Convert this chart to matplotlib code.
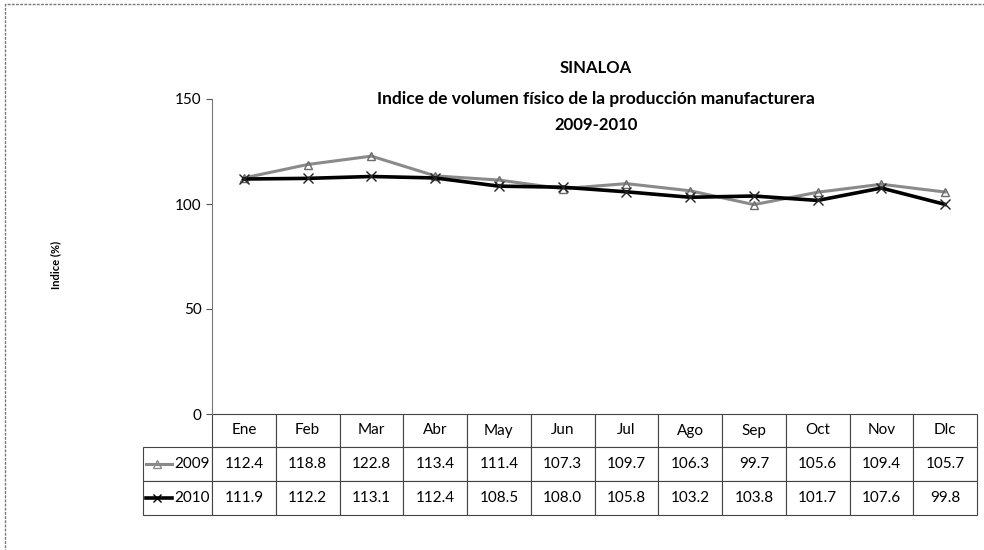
import matplotlib
matplotlib.use('Agg')
import matplotlib.pyplot as plt
from matplotlib.lines import Line2D
from matplotlib.patches import Rectangle

plt.rcParams['font.family'] = ['Lato', 'DejaVu Sans']

meses = ['Ene', 'Feb', 'Mar', 'Abr', 'May', 'Jun', 'Jul', 'Ago', 'Sep', 'Oct', 'Nov', 'Dic']
v2009 = [112.4, 118.8, 122.8, 113.4, 111.4, 107.3, 109.7, 106.3, 99.7, 105.6, 109.4, 105.7]
v2010 = [111.9, 112.2, 113.1, 112.4, 108.5, 108.0, 105.8, 103.2, 103.8, 101.7, 107.6, 99.8]
etiquetas_celdas = ['Ene', 'Feb', 'Mar', 'Abr', 'May', 'Jun', 'Jul', 'Ago', 'Sep', 'Oct', 'Nov', 'Dlc']
series = ['2009', '2010']
yticks = [0, 50, 100, 150]

W, H = 984, 550
fig = plt.figure(figsize=(W / 100, H / 100), dpi=100)

# area del grafico en pixeles
x0, x1 = 212, 977
ytop, ybot = 99, 414
ax = fig.add_axes([x0 / W, 1 - ybot / H, (x1 - x0) / W, (ybot - ytop) / H])

xs = list(range(len(meses)))
ax.plot(xs, v2009, color='#8a8a8a', lw=2.2, marker='^', ms=6, mfc='none', mec='#6a6a6a', mew=1)
ax.plot(xs, v2010, color='black', lw=2.6, marker='x', ms=7, mec='#222222', mew=1)

ax.set_xlim(-0.5, len(meses) - 0.5)
ax.set_ylim(0, 150)
ax.set_yticks(yticks)
ax.set_yticklabels([str(t) for t in yticks], fontsize=11)
ax.set_xticks([])
ax.tick_params(axis='y', direction='out', length=4, color='#555555')
for s in ['top', 'right', 'bottom']:
    ax.spines[s].set_visible(False)
ax.spines['left'].set_color('#777777')
ax.spines['left'].set_linestyle((0, (2, 1)))

fig.text(56 / W, 1 - 265 / H, 'Indice (%)', rotation=90, ha='center', va='center',
         fontsize=8, fontweight='bold')

# tabla de datos (columna 0 = etiquetas de serie)
lab_x0 = 143
tab_bot = 515
celdas = [[series[0]] + [f'{v:.1f}' for v in v2009],
          [series[1]] + [f'{v:.1f}' for v in v2010]]
ancho_tot = x1 - lab_x0
tabla = ax.table(cellText=celdas, colLabels=[''] + etiquetas_celdas, cellLoc='center',
                 bbox=[(lab_x0 - x0) / (x1 - x0), -(tab_bot - ybot) / (ybot - ytop),
                       ancho_tot / (x1 - x0), (tab_bot - ybot) / (ybot - ytop)])
tabla.auto_set_font_size(False)
tabla.set_fontsize(11)
alturas = {0: 447 - ybot, 1: 481 - 447, 2: tab_bot - 481}
for (r, c), cell in tabla.get_celld().items():
    cell.set_edgecolor('#444444')
    cell.set_linewidth(0.8)
    cell.set_height(alturas[r] / (tab_bot - ybot))
    if c == 0:
        cell.set_width((x0 - lab_x0) / ancho_tot)
        cell.get_text().set_ha('right')
        cell.PAD = 0.03
        if r == 0:
            cell.visible_edges = ''
    else:
        cell.set_width((x1 - x0) / 12 / ancho_tot)

# claves de leyenda en la tabla
for r, (col, lw, mk) in enumerate([('#8a8a8a', 2.2, '^'), ('black', 2.6, 'x')]):
    yy = 1 - (464 + 34 * r) / H
    fig.add_artist(Line2D([146 / W, 172 / W], [yy, yy], color=col, lw=lw))
    fig.add_artist(Line2D([157 / W], [yy], color=col, marker=mk, ms=6, mfc='none', mew=1))

# titulos
fig.text(596 / W, 1 - 68 / H, 'SINALOA', ha='center', va='center', fontsize=12, fontweight='bold')
fig.text(596 / W, 1 - 99 / H, 'Indice de volumen físico de la producción manufacturera',
         ha='center', va='center', fontsize=12.5, fontweight='bold')
fig.text(596 / W, 1 - 125 / H, '2009-2010', ha='center', va='center', fontsize=12, fontweight='bold')

# marco
fig.add_artist(Rectangle((5 / W, -0.1), 1.2, 1.1 - 4 / H, transform=fig.transFigure,
                         fill=False, ec='#777777', lw=1, ls=(0, (2, 1))))

fig.savefig('out.png', dpi=100, facecolor='white')
